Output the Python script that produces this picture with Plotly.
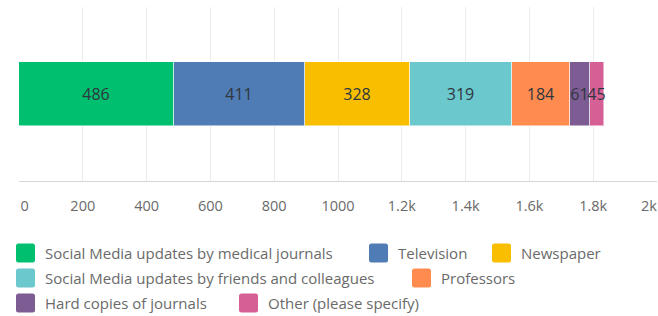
import plotly.graph_objects as go

# ---- data ----
categories = ["Responses"]
series_names = [
    "Social Media updates by medical journals",
    "Television",
    "Newspaper",
    "Social Media updates by friends and colleagues",
    "Professors",
    "Hard copies of journals",
    "Other (please specify)",
]
series_values = [486, 411, 328, 319, 184, 61, 45]
series_colors = ["#00BF6F", "#507CB6", "#F9BE00", "#6BC8CD", "#FF8B4F", "#7D5C93", "#D65F96"]
tick_values = [0, 200, 400, 600, 800, 1000, 1200, 1400, 1600, 1800, 2000]
tick_labels = ["0", "200", "400", "600", "800", "1000",
               "1.2k", "1.4k", "1.6k", "1.8k", "2k"]

# ---- layout constants (pixels) ----
W, H = 658, 316
ML, MR, MT, MB = 19, 1, 7, 135
PW, PH = W - ML - MR, H - MT - MB

# legend placement: (swatch left px, row centre px)
legend_pos = [(16, 253), (369, 253), (492, 253), (16, 278), (412, 278), (16, 303), (239, 303)]
SW = 19
TICK_FONT = dict(family="Open Sans", size=14.5, color="#6a6a6a")

def px(x):
    return (x - ML) / PW

def py(y):
    return (H - MB - y) / PH

fig = go.Figure()
for name, val, col in zip(series_names, series_values, series_colors):
    fig.add_trace(go.Bar(
        y=categories, x=[val], name=name, orientation="h",
        marker=dict(color=col, line=dict(color="rgba(255,255,255,0.5)", width=1)),
        text=[str(val)], textposition="inside", insidetextanchor="middle",
        textangle=0, constraintext="none",
        insidetextfont=dict(family="Open Sans", size=16, color="#2f363e"),
        width=0.37, showlegend=False, hoverinfo="x+name",
    ))

shapes = []
annotations = []
for (sx, sy), name, col in zip(legend_pos, series_names, series_colors):
    x0, x1 = px(sx), px(sx + SW)
    y0, y1 = py(sy + SW / 2), py(sy - SW / 2)
    r = 2.5
    rx, ry = r / PW, r / PH
    path = (f"M{x0+rx},{y0} L{x1-rx},{y0} Q{x1},{y0} {x1},{y0+ry} "
            f"L{x1},{y1-ry} Q{x1},{y1} {x1-rx},{y1} L{x0+rx},{y1} "
            f"Q{x0},{y1} {x0},{y1-ry} L{x0},{y0+ry} Q{x0},{y0} {x0+rx},{y0} Z")
    shapes.append(dict(type="path", xref="paper", yref="paper", path=path,
                       fillcolor=col, line=dict(width=0)))
    annotations.append(dict(x=px(sx + SW + 8), y=py(sy), xref="paper", yref="paper",
                            text=name, showarrow=False, xanchor="left", yanchor="middle",
                            font=dict(family="Open Sans", size=15, color="#6a6a6a")))

# first and last tick labels sit inside the figure edges, like the reference
axis_text = ["\u00a0\u00a0\u00a0" + tick_labels[0]] + tick_labels[1:-1] + [""]
annotations.append(dict(x=tick_values[-1], xref="x", y=py(205), yref="paper",
                        text=tick_labels[-1], showarrow=False, xanchor="right",
                        yanchor="middle", xshift=2, font=TICK_FONT))

fig.update_layout(
    width=W, height=H,
    margin=dict(l=ML, r=MR, t=MT, b=MB, autoexpand=False),
    barmode="stack", bargap=0,
    plot_bgcolor="white", paper_bgcolor="white",
    shapes=shapes, annotations=annotations,
    showlegend=False,
    xaxis=dict(range=[0, 2000], tickvals=tick_values, ticktext=axis_text,
               showgrid=True, gridcolor="#ececec", gridwidth=1,
               zeroline=False, showline=True, linecolor="#d6d6d6", linewidth=1,
               ticks="outside", ticklen=12, tickcolor="rgba(0,0,0,0)",
               tickfont=TICK_FONT, automargin=False, fixedrange=True),
    yaxis=dict(showticklabels=False, showgrid=False, zeroline=False,
               range=[-0.5, 0.5], automargin=False, fixedrange=True),
    uniformtext=dict(mode=False),
)

fig.write_html("out.html", config={"displayModeBar": False},
               post_script="document.body.style.margin='0';document.body.style.overflow='hidden';")
